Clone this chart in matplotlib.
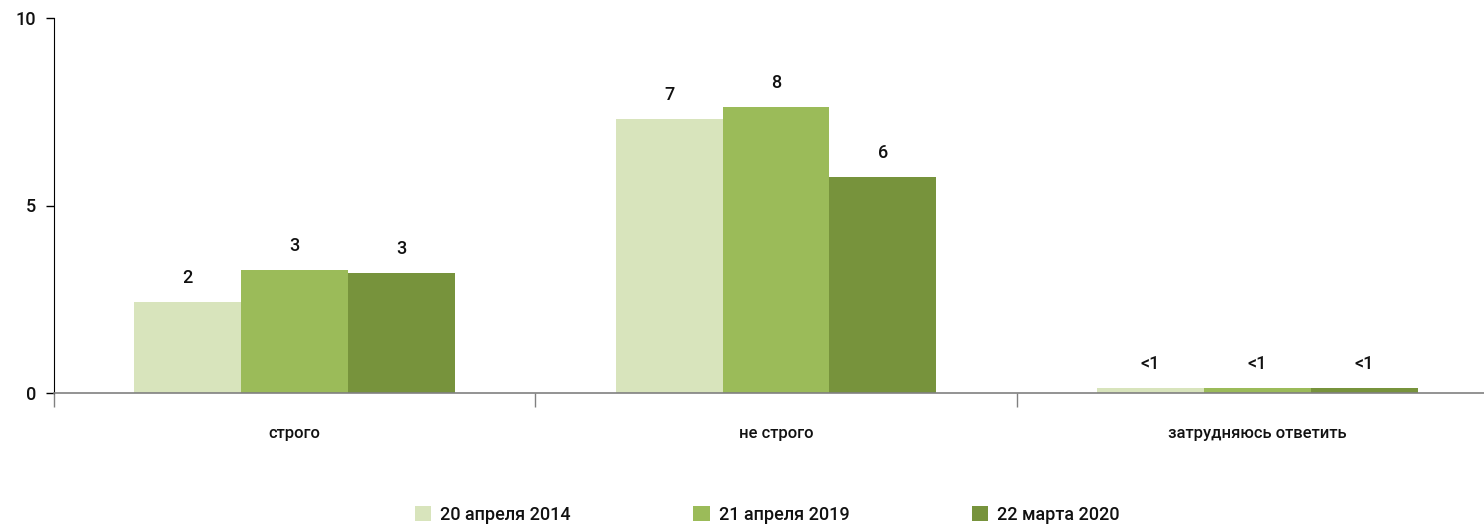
import numpy as np
import matplotlib.pyplot as plt
from matplotlib.patches import Patch

plt.rcParams['font.family'] = ['Roboto', 'DejaVu Sans']
plt.rcParams['font.weight'] = 'medium'

# data
categories = ['строго', 'не строго', 'затрудняюсь ответить']
series_names = ['20 апреля 2014', '21 апреля 2019', '22 марта 2020']
values = [
    [2.43, 7.31, 0.13],
    [3.28, 7.63, 0.13],
    [3.2, 5.76, 0.13],
]
value_labels = [
    ['2', '7', '<1'],
    ['3', '8', '<1'],
    ['3', '6', '<1'],
]
colors = ['#D8E4BC', '#9BBB59', '#77933C']

fig = plt.figure(figsize=(14.84, 5.30), dpi=100)
ax = fig.add_axes([54 / 1484, 1 - 393 / 530, 1444 / 1484, 375 / 530])

x = np.arange(len(categories))
width = 2 / 9
for i, (vals, labs) in enumerate(zip(values, value_labels)):
    pos = x + (i - 1) * width
    bars = ax.bar(pos, vals, width, color=colors[i], label=series_names[i], zorder=2)
    for b, lab in zip(bars, labs):
        ax.annotate(lab, (b.get_x() + b.get_width() / 2, b.get_height()),
                    xytext=(0, 11), textcoords='offset points',
                    ha='center', va='bottom', fontsize=13, color='#111111')

ax.set_xlim(-0.5, len(categories) - 0.5)
ax.set_ylim(0, 10)
ax.set_yticks([0, 5, 10])
ax.tick_params(axis='y', direction='out', length=6, width=1, pad=7, labelsize=13,
               labelcolor='#111111')

ax.set_xticks(x)
ax.set_xticklabels(categories, fontsize=12, color='#111111')
ax.tick_params(axis='x', which='major', length=0, pad=24)
ax.set_xticks(np.arange(len(categories) + 1) - 0.5, minor=True)
ax.tick_params(axis='x', which='minor', direction='out', length=10, width=1, color='#808080')

for s in ['top', 'right']:
    ax.spines[s].set_visible(False)
ax.spines['left'].set_color('black')
ax.spines['bottom'].set_color('#808080')
ax.spines['bottom'].set_linewidth(1.2)
ax.spines['bottom'].set_zorder(3)

handles = [Patch(facecolor=c, edgecolor='none') for c in colors]
fig.legend(handles, series_names, loc='center', bbox_to_anchor=(0.517, 1 - 515 / 530),
           ncol=3, frameon=False, fontsize=13, handlelength=0.9, handleheight=0.9,
           handletextpad=0.5, columnspacing=6.8, labelcolor='#111111')

fig.savefig('out.png', dpi=100)
